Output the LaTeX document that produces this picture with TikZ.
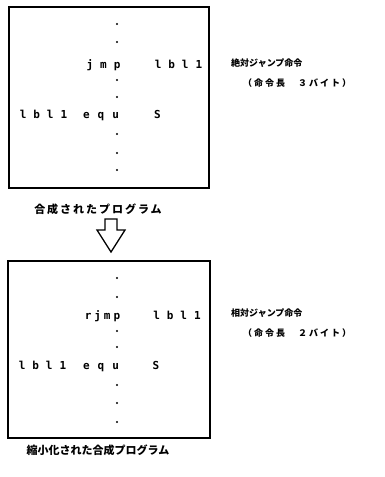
\documentclass[tikz,border=0pt]{standalone}
\usepackage{fontspec}
\setmonofont{DejaVu Sans Mono}
\newfontfamily\jp{Noto Sans CJK JP}
\newfontfamily\jpsp{Noto Sans CJK JP}[LetterSpace=18]
\newfontfamily\jpspb{Noto Sans CJK JP}[LetterSpace=22]
\begin{document}
\begin{tikzpicture}[x=1pt,y=-1pt,
  box/.style={draw, line width=1.4pt, inner sep=0pt},
  code/.style={font=\ttfamily\bfseries\fontsize{11}{11}\selectfont, inner sep=0pt, anchor=base},
  lbl/.style={font=\jp\bfseries\fontsize{9}{9}\selectfont, inner sep=0pt, anchor=west},
  lbls/.style={font=\jpspb\bfseries\fontsize{9}{9}\selectfont, inner sep=0pt, anchor=west},
  capt/.style={font=\jp\bfseries\fontsize{11}{11}\selectfont, inner sep=0pt},
  capts/.style={font=\jpsp\bfseries\fontsize{11}{11}\selectfont, inner sep=0pt},
  dotc/.style={fill, circle, inner sep=0pt, minimum size=2.4pt}]
\useasboundingbox (0,0) rectangle (384,477);
% boxes
\node[box, minimum width=200pt, minimum height=181pt] (box1) at (109,97.5) {};
\node[box, minimum width=202pt, minimum height=177pt] (box2) at (109,349.5) {};
% top box code
\foreach \yy [count=\i] in {24,42,80,97,134,153,170} \node[dotc] (td\i) at (117,\yy) {};
\node[code] (t1a) at (103.5,68.5) {j\kern7pt m\kern7pt p};
\node[code] (t1b) at (178.5,68.5) {l\kern7pt b\kern7pt l\kern7pt 1};
\node[code] (t2a) at (43.5,118.5) {l\kern7pt b\kern7pt l\kern7pt 1};
\node[code] (t2b) at (101,118.5) {e\kern8pt q\kern8pt u};
\node[code] (t2c) at (157.5,118.5) {S};
% bottom box code
\foreach \yy [count=\i] in {278,297,331,347,385,403,422} \node[dotc] (bd\i) at (117,\yy) {};
\node[code] (b1a) at (102.5,319.5) {r\kern3pt j\kern3pt m\kern3pt p};
\node[code] (b1b) at (177,319.5) {l\kern7pt b\kern7pt l\kern7pt 1};
\node[code] (b2a) at (42.5,369.5) {l\kern7pt b\kern7pt l\kern7pt 1};
\node[code] (b2b) at (101,369.5) {e\kern8pt q\kern8pt u};
\node[code] (b2c) at (156,369.5) {S};
% right labels
\node[lbl] (l1) at (231,63) {絶対ジャンプ命令};
\node[lbls] (l2) at (243,83) {（命令長　３バイト）};
\node[lbl] (l3) at (231,313) {相対ジャンプ命令};
\node[lbls] (l4) at (243,333) {（命令長　２バイト）};
% captions
\node[capts] (c1) at (98,209) {合成されたプログラム};
\node[capt] (c2) at (98,450) {縮小化された合成プログラム};
% block arrow
\draw[line width=1.3pt, line join=miter]
  (105,219) -- (117,219) -- (117,230) -- (125,230) -- (111,252) -- (97,230) -- (105,230) -- cycle;
\end{tikzpicture}
\end{document}
